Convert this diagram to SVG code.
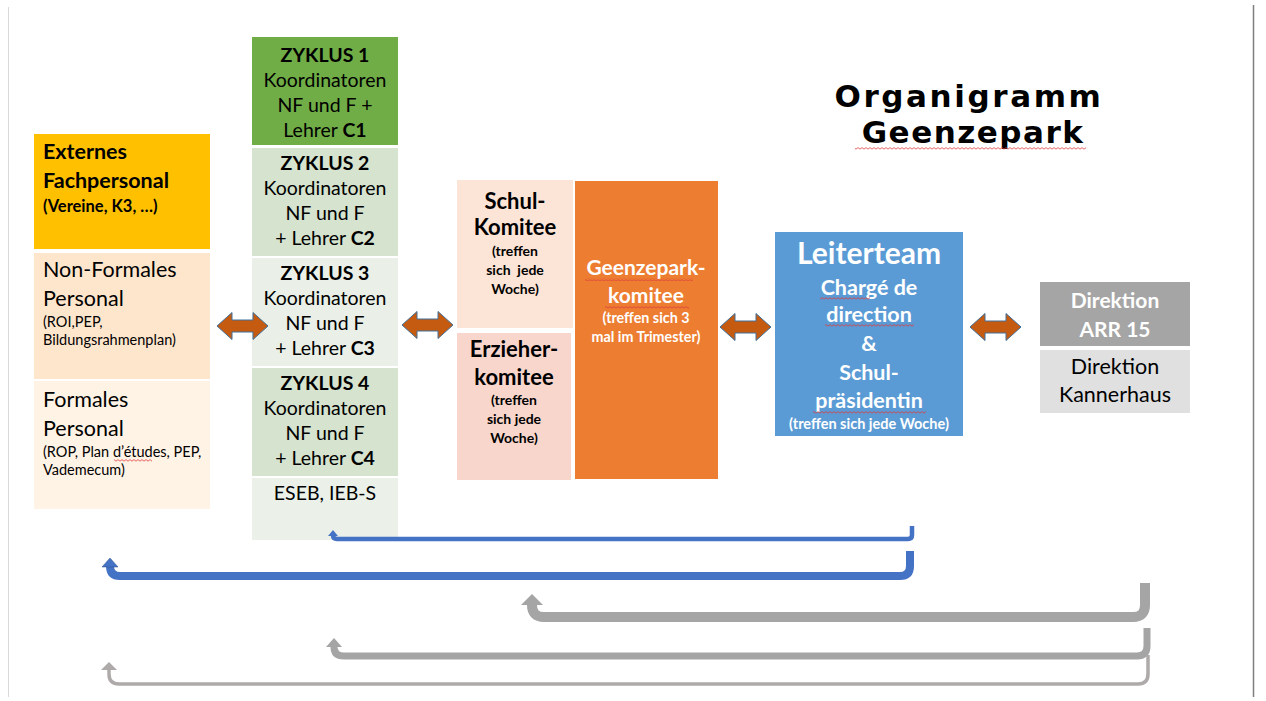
<svg xmlns="http://www.w3.org/2000/svg" xmlns:xlink="http://www.w3.org/1999/xlink" width="1266" height="701" viewBox="0 0 1266 701">
<style>
text{font-family:Lato,"Liberation Sans",sans-serif;fill:#000}
.b{font-weight:bold}
.c{text-anchor:middle}
.w{fill:#fff}
.zy{font-size:19.5px}
.sm{font-size:14.5px}
.tr{font-size:14px}
.arr{fill:#C55A11;stroke:#41719C;stroke-width:1}
.sq{fill:url(#wave)}
.ln{fill:none;stroke-linejoin:round}
</style>
<defs>
<pattern id="wave" patternUnits="userSpaceOnUse" width="4" height="3">
<path d="M0,2.2 L2,0.6 L4,2.2" fill="none" stroke="#E03B3B" stroke-width="0.8"/>
</pattern>
<polygon id="dbl" points="0,0 15,-13.5 15,-6 36,-6 36,-13.5 51,0 36,13.5 36,6 15,6 15,13.5"/>
</defs>
<rect width="1266" height="701" fill="#fff"/>
<line x1="8.5" y1="7" x2="8.5" y2="697" stroke="#D9D9D9" stroke-width="1"/>
<line x1="1253.5" y1="5" x2="1253.5" y2="697" stroke="#7F7F7F" stroke-width="1.5"/>

<g id="title">
<text x="969" y="107" class="c b" style="font-family:'Comic Sans MS','DejaVu Sans',sans-serif;font-size:31px;letter-spacing:2.6px">Organigramm</text>
<text x="973" y="143" class="c b" style="font-family:'Comic Sans MS','DejaVu Sans',sans-serif;font-size:31px;letter-spacing:1.5px">Geenzepark</text>
<rect class="sq" x="855" y="147" width="231" height="3"/>
</g>

<g id="externes">
<rect x="34" y="134" width="176" height="115" fill="#FFC000"/>
<text x="43" y="159" class="b" style="font-size:21.5px">Externes</text>
<text x="43" y="188" class="b" style="font-size:21.5px">Fachpersonal</text>
<text x="43" y="212" class="b" style="font-size:16.5px">(Vereine, K3, …)</text>
</g>
<g id="nonformales">
<rect x="34" y="253" width="176" height="126" fill="#FEE6CD"/>
<text x="43" y="277" style="font-size:21.5px">Non-Formales</text>
<text x="43" y="306" style="font-size:21.5px">Personal</text>
<text x="43" y="327" class="sm">(ROI,PEP,</text>
<text x="43" y="345" class="sm">Bildungsrahmenplan)</text>
</g>
<g id="formales">
<rect x="34" y="381" width="176" height="128" fill="#FFF3E6"/>
<text x="43" y="407" style="font-size:21.5px">Formales</text>
<text x="43" y="436" style="font-size:21.5px">Personal</text>
<text x="43" y="457" class="sm">(ROP, Plan d’études, PEP,</text>
<text x="43" y="475" class="sm">Vademecum)</text>
<rect class="sq" x="114" y="459" width="38" height="3"/>
</g>

<g id="zyklus1">
<rect x="252" y="37" width="146" height="108" fill="#70AD47"/>
<text x="325" y="62" class="c b zy">ZYKLUS 1</text>
<text x="325" y="87" class="c zy">Koordinatoren</text>
<text x="325" y="112" class="c zy">NF und F +</text>
<text x="325" y="137" class="c zy">Lehrer <tspan class="b">C1</tspan></text>
</g>
<g id="zyklus2">
<rect x="252" y="148" width="146" height="108" fill="#D5E3CF"/>
<text x="325" y="170" class="c b zy">ZYKLUS 2</text>
<text x="325" y="195" class="c zy">Koordinatoren</text>
<text x="325" y="220" class="c zy">NF und F</text>
<text x="325" y="245" class="c zy">+ Lehrer <tspan class="b">C2</tspan></text>
</g>
<g id="zyklus3">
<rect x="252" y="258" width="146" height="108" fill="#EAF0E7"/>
<text x="325" y="280" class="c b zy">ZYKLUS 3</text>
<text x="325" y="305" class="c zy">Koordinatoren</text>
<text x="325" y="330" class="c zy">NF und F</text>
<text x="325" y="355" class="c zy">+ Lehrer <tspan class="b">C3</tspan></text>
</g>
<g id="zyklus4">
<rect x="252" y="368" width="146" height="108" fill="#D5E3CF"/>
<text x="325" y="390" class="c b zy">ZYKLUS 4</text>
<text x="325" y="415" class="c zy">Koordinatoren</text>
<text x="325" y="440" class="c zy">NF und F</text>
<text x="325" y="465" class="c zy">+ Lehrer <tspan class="b">C4</tspan></text>
</g>
<g id="eseb">
<rect x="252" y="478" width="146" height="62" fill="#EBF1E9"/>
<text x="325" y="500" class="c zy">ESEB, IEB-S</text>
</g>

<g id="schulkomitee">
<rect x="457" y="180" width="116" height="148" fill="#FCE4D6"/>
<text x="515" y="209" class="c b" style="font-size:22px">Schul-</text>
<text x="515" y="235" class="c b" style="font-size:22px">Komitee</text>
<text x="515" y="256" class="c b tr">(treffen</text>
<text x="515" y="275" class="c b tr" style="white-space:pre">sich  jede</text>
<text x="515" y="294" class="c b tr">Woche)</text>
</g>
<g id="erzieherkomitee">
<rect x="457" y="333" width="114" height="147" fill="#F8D6CC"/>
<text x="514" y="357" class="c b" style="font-size:22px">Erzieher-</text>
<text x="514" y="385" class="c b" style="font-size:22px">komitee</text>
<text x="514" y="405" class="c b tr">(treffen</text>
<text x="514" y="424" class="c b tr">sich jede</text>
<text x="514" y="443" class="c b tr">Woche)</text>
</g>
<g id="geenzeparkkomitee">
<rect x="575" y="181" width="143" height="298" fill="#ED7D31"/>
<text x="646" y="275" class="c b w" style="font-size:21px">Geenzepark-</text>
<text x="646" y="303" class="c b w" style="font-size:21px">komitee</text>
<rect class="sq" x="585" y="278" width="108" height="3"/>
<rect class="sq" x="605" y="306" width="84" height="3"/>
<text x="646" y="323" class="c b w" style="font-size:14.3px">(treffen sich 3</text>
<text x="646" y="342" class="c b w" style="font-size:14.3px">mal im Trimester)</text>
</g>

<g id="leiterteam">
<rect x="775" y="232" width="188" height="204" fill="#5B9BD5"/>
<text x="869" y="264" class="c b w" style="font-size:30px">Leiterteam</text>
<text x="869" y="295" class="c b w" style="font-size:21.5px">Chargé de</text>
<text x="869" y="322" class="c b w" style="font-size:21.5px">direction</text>
<text x="869" y="351" class="c b w" style="font-size:21.5px">&amp;</text>
<text x="869" y="380" class="c b w" style="font-size:21.5px">Schul-</text>
<text x="869" y="408" class="c b w" style="font-size:21.5px">präsidentin</text>
<text x="869" y="429" class="c b w" style="font-size:14.5px">(treffen sich jede Woche)</text>
<rect class="sq" x="820" y="297" width="50" height="3"/>
<rect class="sq" x="825" y="324" width="89" height="3"/>
<rect class="sq" x="813" y="411" width="113" height="3"/>
</g>

<g id="direktionarr">
<rect x="1040" y="282" width="150" height="64" fill="#A5A5A5"/>
<text x="1115" y="308" class="c b w" style="font-size:21px">Direktion</text>
<text x="1115" y="337" class="c b w" style="font-size:21px">ARR 15</text>
</g>
<g id="direktionkannerhaus">
<rect x="1040" y="350" width="150" height="63" fill="#E0E0E0"/>
<text x="1115" y="374" class="c" style="font-size:21.5px">Direktion</text>
<text x="1115" y="402" class="c" style="font-size:21.5px">Kannerhaus</text>
</g>

<g id="connectors">
<use xlink:href="#dbl" href="#dbl" class="arr" x="217" y="326"/>
<use xlink:href="#dbl" href="#dbl" class="arr" x="402" y="325"/>
<use xlink:href="#dbl" href="#dbl" class="arr" x="720" y="327"/>
<use xlink:href="#dbl" href="#dbl" class="arr" x="970" y="327"/>

<path class="ln" d="M912,526 V535 Q912,539 908,539 H337 Q333,539 333,535" stroke="#4472C4" stroke-width="4.5"/>
<polygon points="328,536 333,530 338,536" fill="#4472C4"/>

<path class="ln" d="M910,551 V566 Q910,576 900,576 H120 Q110,576 110,566" stroke="#4472C4" stroke-width="8"/>
<polygon points="102,567 110,558 118,567" fill="#4472C4" stroke="#2F528F" stroke-width="0.5"/>

<path class="ln" d="M1145,583 V605 Q1145,617 1133,617 H544 Q532,617 532,605" stroke="#A5A5A5" stroke-width="10"/>
<polygon points="521,605 532,594 543,605" fill="#A5A5A5"/>

<path class="ln" d="M1147,628 V646 Q1147,656 1137,656 H344 Q334,656 334,647" stroke="#A5A5A5" stroke-width="7"/>
<polygon points="326,647 334,638 342,647" fill="#A5A5A5"/>

<path class="ln" d="M1148,655 V674 Q1148,684 1138,684 H119 Q109,684 109,674 V669" stroke="#AEAAAA" stroke-width="3.5"/>
<polygon points="101,670 109,662 117,670" fill="#AEAAAA"/>
</g>
</svg>
